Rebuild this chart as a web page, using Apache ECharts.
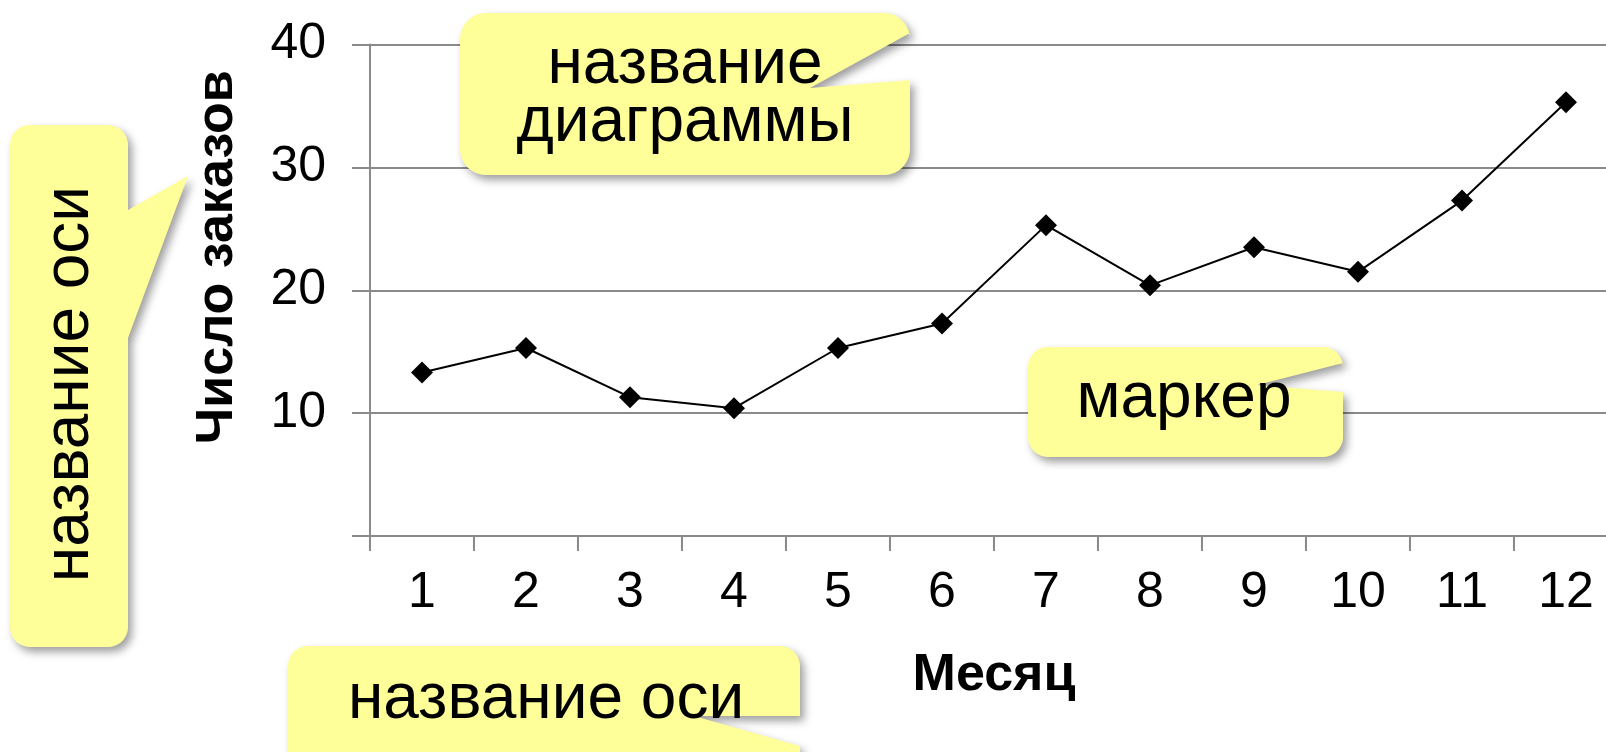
<!DOCTYPE html>
<html>
<head>
<meta charset="utf-8">
<script src="https://cdn.jsdelivr.net/npm/echarts@6/dist/echarts.min.js"></script>
<style>
  html, body { margin: 0; padding: 0; background: #ffffff; }
  #chart { width: 1606px; height: 752px; }
</style>
</head>
<body>
<div id="chart"></div>
<script>
// Orders per month
const months = ['1', '2', '3', '4', '5', '6', '7', '8', '9', '10', '11', '12'];
const orders = [13.3, 15.3, 11.3, 10.4, 15.3, 17.3, 25.3, 20.4, 23.5, 21.5, 27.3, 35.3];
const yTicks = { min: 0, max: 40, step: 10 };

const xAxisTitle = 'Месяц';
const yAxisTitle = 'Число заказов';
const noteChartTitle = 'название\nдиаграммы';
const noteAxisTitle = 'название оси';
const noteMarker = 'маркер';

const FONT = "'Liberation Sans', Arial, sans-serif";
const GRAY = '#8a8a8a';
const NOTE_FILL = '#FFFF99';

// Rounded box outline; extra points are inserted on the right edge (top to bottom)
function notePoints(x, y, w, h, r, rightEdge) {
  const pts = [];
  const arc = (cx, cy, a0, a1) => {
    for (let i = 0; i <= 10; i++) {
      const a = a0 + (a1 - a0) * i / 10;
      pts.push([cx + r * Math.cos(a), cy + r * Math.sin(a)]);
    }
  };
  arc(x + r, y + r, Math.PI, 1.5 * Math.PI);
  arc(x + w - r, y + r, 1.5 * Math.PI, 2 * Math.PI);
  rightEdge.forEach(p => pts.push(p));
  arc(x + w - r, y + h - r, 0, 0.5 * Math.PI);
  arc(x + r, y + h - r, 0.5 * Math.PI, Math.PI);
  return pts;
}

function noteShape(points) {
  return {
    type: 'polygon',
    z: 100,
    shape: { points: points },
    style: {
      fill: NOTE_FILL,
      shadowBlur: 8,
      shadowOffsetX: 4,
      shadowOffsetY: 5,
      shadowColor: 'rgba(0,0,0,0.38)'
    }
  };
}

function noteText(text, x, y, rotation, lineHeight) {
  return {
    type: 'text',
    z: 101,
    x: x,
    y: y,
    rotation: rotation || 0,
    style: {
      text: text,
      fill: '#000000',
      font: '64px ' + FONT,
      lineHeight: lineHeight || 64,
      textAlign: 'center',
      textVerticalAlign: 'middle'
    }
  };
}

const chart = echarts.init(document.getElementById('chart'), null, { renderer: 'canvas' });

chart.setOption({
  backgroundColor: '#ffffff',
  animation: false,
  grid: {
    left: 370, top: 44.5, width: 1248, height: 491.5,
    containLabel: false,
    outerBoundsMode: 'none'
  },
  xAxis: {
    type: 'category',
    data: months,
    boundaryGap: true,
    axisLine: { show: true, lineStyle: { color: GRAY, width: 2 } },
    axisTick: { show: true, length: 15, interval: 0, lineStyle: { color: GRAY, width: 2 } },
    axisLabel: { color: '#000000', fontSize: 50, fontFamily: FONT, margin: 32, interval: 0 },
    splitLine: { show: false },
    name: xAxisTitle,
    nameLocation: 'middle',
    nameGap: 114,
    nameTextStyle: { color: '#000000', fontSize: 52, fontWeight: 'bold', fontFamily: FONT }
  },
  yAxis: {
    type: 'value',
    min: yTicks.min,
    max: yTicks.max,
    interval: yTicks.step,
    axisLine: { show: true, lineStyle: { color: GRAY, width: 2 } },
    axisTick: { show: true, length: 18, lineStyle: { color: GRAY, width: 2 } },
    axisLabel: {
      color: '#000000', fontSize: 50, fontFamily: FONT, margin: 44,
      formatter: v => (v === 0 ? '' : String(v))
    },
    splitLine: { show: true, lineStyle: { color: GRAY, width: 2 } },
    name: yAxisTitle,
    nameLocation: 'middle',
    nameGap: 126,
    nameRotate: 90,
    nameTextStyle: {
      color: '#000000', fontSize: 52, fontWeight: 'bold', fontFamily: FONT,
      padding: [0, 0, 0, 66]
    }
  },
  series: [{
    type: 'line',
    data: orders,
    symbol: 'diamond',
    symbolSize: 22,
    showAllSymbol: true,
    itemStyle: { color: '#000000' },
    lineStyle: { color: '#000000', width: 2 },
    emphasis: { disabled: true }
  }],
  graphic: [
    // vertical note pointing at the value-axis title
    noteShape(notePoints(10, 125, 118, 522, 20, [[128, 210], [188, 176], [128, 338]])),
    noteText(noteAxisTitle, 70, 384, Math.PI / 2),
    // note over the plot top
    noteShape(notePoints(460, 13, 450, 162, 26, [[910, 33], [810, 88], [910, 80]])),
    noteText(noteChartTitle, 685, 94, 0, 58),
    // note near the markers
    noteShape(notePoints(1028, 347, 315, 110, 20, [[1343, 363], [1257, 385], [1343, 392]])),
    noteText(noteMarker, 1184, 399),
    // note under the category axis
    noteShape(notePoints(288, 646, 512, 160, 20, [[800, 716], [694, 716], [800, 746]])),
    noteText(noteAxisTitle, 546, 700)
  ]
});
</script>
</body>
</html>
